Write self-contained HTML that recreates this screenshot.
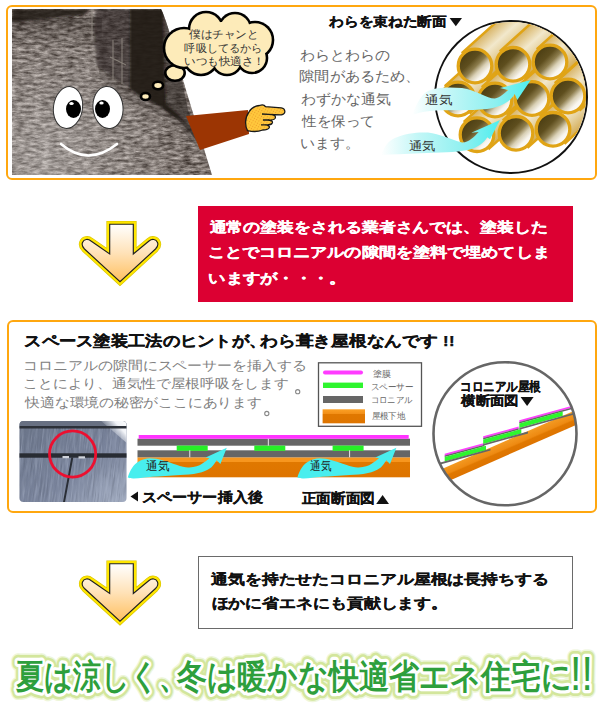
<!DOCTYPE html>
<html lang="ja">
<head>
<meta charset="utf-8">
<style>
*{margin:0;padding:0;box-sizing:border-box}
html,body{width:600px;height:706px;overflow:hidden;background:#fff;font-family:"Liberation Sans",sans-serif}
.abs{position:absolute}
.box{position:absolute;border:2px solid #FFA70F;border-radius:6px}
.t{position:absolute;white-space:nowrap}
</style>
</head>
<body>
<!-- Section 1 box -->
<div class="box" style="left:6px;top:5px;width:591px;height:175px"></div>


<!-- Section 1 graphics -->
<svg class="abs" style="left:0;top:0" width="600" height="190" viewBox="0 0 600 190">
<defs>
  <clipPath id="ph1"><path d="M12,9 L161,9 C165,17 170,33 176,55 L186,90 L212,175 L12,175 Z"/></clipPath>
  <filter id="nz1" x="0" y="0" width="100%" height="100%" color-interpolation-filters="sRGB">
    <feTurbulence type="fractalNoise" baseFrequency="0.12 0.35" numOctaves="4" seed="11"/>
    <feColorMatrix type="matrix" values="0.75 0 0 0 0.11  0.75 0 0 0 0.075  0.75 0 0 0 0.055  0 0 0 0 1"/>
  </filter>
  
  <linearGradient id="tubeIn" x1="0.1" y1="0.1" x2="0.9" y2="0.9">
    <stop offset="0" stop-color="#473a10"/>
    <stop offset="0.35" stop-color="#5e4e1e"/>
    <stop offset="0.52" stop-color="#8c7c4c"/>
    <stop offset="0.66" stop-color="#d8cfb4"/>
    <stop offset="0.8" stop-color="#f8f5ee"/>
    <stop offset="1" stop-color="#ffffff"/>
  </linearGradient>
  <linearGradient id="tubeBody" x1="0" y1="1" x2="1" y2="0">
    <stop offset="0" stop-color="#cfa54a"/>
    <stop offset="0.5" stop-color="#e8d6a8"/>
    <stop offset="1" stop-color="#c9a048"/>
  </linearGradient>
  <linearGradient id="cyan1" x1="0" y1="0" x2="1" y2="0">
    <stop offset="0" stop-color="#ffffff"/>
    <stop offset="0.3" stop-color="#c4f7f7"/>
    <stop offset="0.7" stop-color="#8ef0f0"/>
    <stop offset="1" stop-color="#4eeeee"/>
  </linearGradient>
  <filter id="soft" x="-10%" y="-10%" width="120%" height="120%"><feGaussianBlur stdDeviation="0.8"/></filter>
  <linearGradient id="topShade" x1="0" y1="0" x2="0" y2="1">
    <stop offset="0" stop-color="#1e1814" stop-opacity="0.35"/>
    <stop offset="1" stop-color="#1e1814" stop-opacity="0"/>
  </linearGradient>
  <radialGradient id="lit1" gradientUnits="userSpaceOnUse" cx="45" cy="160" r="140">
    <stop offset="0" stop-color="#fff" stop-opacity="0.3"/>
    <stop offset="1" stop-color="#fff" stop-opacity="0"/>
  </radialGradient>
  <linearGradient id="tb475_66" gradientUnits="userSpaceOnUse" x1="487.3" y1="79.7" x2="462.7" y2="52.3"><stop offset="0" stop-color="#d4ac55"/><stop offset="0.35" stop-color="#e6d2a0"/><stop offset="0.6" stop-color="#f2e8cc"/><stop offset="1" stop-color="#d8b466"/></linearGradient>
<linearGradient id="tb513_64" gradientUnits="userSpaceOnUse" x1="525.3" y1="78.0" x2="500.7" y2="50.6"><stop offset="0" stop-color="#d4ac55"/><stop offset="0.35" stop-color="#e6d2a0"/><stop offset="0.6" stop-color="#f2e8cc"/><stop offset="1" stop-color="#d8b466"/></linearGradient>
<linearGradient id="tb550_62" gradientUnits="userSpaceOnUse" x1="562.3" y1="75.7" x2="537.7" y2="48.3"><stop offset="0" stop-color="#d4ac55"/><stop offset="0.35" stop-color="#e6d2a0"/><stop offset="0.6" stop-color="#f2e8cc"/><stop offset="1" stop-color="#d8b466"/></linearGradient>
<linearGradient id="tb458_99" gradientUnits="userSpaceOnUse" x1="470.3" y1="112.7" x2="445.7" y2="85.3"><stop offset="0" stop-color="#d4ac55"/><stop offset="0.35" stop-color="#e6d2a0"/><stop offset="0.6" stop-color="#f2e8cc"/><stop offset="1" stop-color="#d8b466"/></linearGradient>
<linearGradient id="tb495_100" gradientUnits="userSpaceOnUse" x1="507.3" y1="113.7" x2="482.7" y2="86.3"><stop offset="0" stop-color="#d4ac55"/><stop offset="0.35" stop-color="#e6d2a0"/><stop offset="0.6" stop-color="#f2e8cc"/><stop offset="1" stop-color="#d8b466"/></linearGradient>
<linearGradient id="tb532_98" gradientUnits="userSpaceOnUse" x1="544.3" y1="112.2" x2="519.7" y2="84.8"><stop offset="0" stop-color="#d4ac55"/><stop offset="0.35" stop-color="#e6d2a0"/><stop offset="0.6" stop-color="#f2e8cc"/><stop offset="1" stop-color="#d8b466"/></linearGradient>
<linearGradient id="tb568_96" gradientUnits="userSpaceOnUse" x1="580.3" y1="109.7" x2="555.7" y2="82.3"><stop offset="0" stop-color="#d4ac55"/><stop offset="0.35" stop-color="#e6d2a0"/><stop offset="0.6" stop-color="#f2e8cc"/><stop offset="1" stop-color="#d8b466"/></linearGradient>
<linearGradient id="tb477_134" gradientUnits="userSpaceOnUse" x1="489.3" y1="148.4" x2="464.7" y2="121.0"><stop offset="0" stop-color="#d4ac55"/><stop offset="0.35" stop-color="#e6d2a0"/><stop offset="0.6" stop-color="#f2e8cc"/><stop offset="1" stop-color="#d8b466"/></linearGradient>
<linearGradient id="tb516_133" gradientUnits="userSpaceOnUse" x1="528.3" y1="147.0" x2="503.7" y2="119.6"><stop offset="0" stop-color="#d4ac55"/><stop offset="0.35" stop-color="#e6d2a0"/><stop offset="0.6" stop-color="#f2e8cc"/><stop offset="1" stop-color="#d8b466"/></linearGradient>
<linearGradient id="tb553_129" gradientUnits="userSpaceOnUse" x1="565.3" y1="143.0" x2="540.7" y2="115.6"><stop offset="0" stop-color="#d4ac55"/><stop offset="0.35" stop-color="#e6d2a0"/><stop offset="0.6" stop-color="#f2e8cc"/><stop offset="1" stop-color="#d8b466"/></linearGradient>
  <clipPath id="circ1"><circle cx="511" cy="97" r="75"/></clipPath>
</defs>
<g clip-path="url(#ph1)">
  <rect x="0" y="0" width="220" height="180" filter="url(#nz1)"/>
  <rect x="0" y="0" width="220" height="180" fill="url(#lit1)"/>
  <!-- top dark strip -->
  <path d="M12,9 L90,9 L84,15 L50,18.5 L12,22.5 Z" fill="#221b17" opacity="0.85" filter="url(#soft)"/>
  <rect x="12" y="18" width="90" height="30" fill="url(#topShade)"/>
  <!-- mid-dark region -->
  <path d="M95,9 L131,9 L131,89 L112,77 L97,66 L94,40 Z" fill="#2a2420" opacity="0.6" filter="url(#soft)"/>
  <!-- right band (roof edge) -->
  <path d="M160,9 L163,9 L170,28 L176,55 L182,80 L188,110 L196,130 L203,150 L190,132 L176,118 L163,108 L162,60 Z" fill="#2a2420" opacity="0.55"/>
  <!-- dark doorway -->
  <path d="M130,9 L163,9 L164,60 L166,104 L176,112 L186,122 L176,118 L162,108 L150,101 L139,96 L130,89 Z" fill="#231b17" opacity="0.95" filter="url(#soft)"/>
  <!-- shade near mound edge -->
  <path d="M98,66 L112,77 L127,87 L139,96 L152,102 L165,108 L178,116 L190,126 L200,140 L196,146 L180,128 L160,116 L140,106 L120,95 L100,78 Z" fill="#2a2420" opacity="0.28"/>
  <!-- window frame -->
  <path d="M113,40 L113,80 M122,38 L122,84 M110,57 L126,65 M92,9 L92,38" stroke="#8f8880" stroke-width="1.1" fill="none" opacity="0.85"/>
</g>
<!-- eyes -->
<g stroke="#333" stroke-width="1">
  <ellipse cx="68" cy="107.5" rx="14.5" ry="21" fill="#fff" transform="rotate(8 68 107.5)"/>
  <ellipse cx="108" cy="107.5" rx="15" ry="21" fill="#fff" transform="rotate(-6 108 107.5)"/>
</g>
<ellipse cx="73.5" cy="109" rx="7.5" ry="9" fill="#000"/>
<ellipse cx="102.5" cy="109" rx="7.5" ry="9" fill="#000"/>
<ellipse cx="71.5" cy="103.5" rx="2.2" ry="1.6" fill="#fff"/>
<ellipse cx="101.5" cy="103" rx="2.2" ry="1.6" fill="#fff"/>
<path d="M61,144 Q88,167 117,144" stroke="#fff" stroke-width="2.6" fill="none" stroke-linecap="round"/>
<!-- thought bubble -->
<g fill="#FDEBB9" stroke="#000" stroke-width="2.6">
  <ellipse cx="145.5" cy="96.5" rx="4.5" ry="3.5"/>
  <ellipse cx="158" cy="85.5" rx="5" ry="3.7"/>
  <ellipse cx="175" cy="73" rx="9.7" ry="7.7"/>
</g>
<g fill="#000">
  <circle cx="184" cy="48" r="21.3"/>
  <circle cx="206" cy="29" r="18.3"/>
  <circle cx="235" cy="29" r="17.3"/>
  <circle cx="255" cy="40" r="19.3"/>
  <circle cx="252" cy="58" r="16.3"/>
  <circle cx="227" cy="60" r="16.3"/>
  <circle cx="201" cy="58" r="18.3"/>
</g>
<g fill="#FDEBB9">
  <circle cx="184" cy="48" r="18.7"/>
  <circle cx="206" cy="29" r="15.7"/>
  <circle cx="235" cy="29" r="14.7"/>
  <circle cx="255" cy="40" r="16.7"/>
  <circle cx="252" cy="58" r="13.7"/>
  <circle cx="227" cy="60" r="13.7"/>
  <circle cx="201" cy="58" r="15.7"/>
  <ellipse cx="222" cy="44" rx="38" ry="22"/>
</g>
<!-- arm -->
<path d="M186,116 L248,110 L249,134 L200,150 Z" fill="#9C3503"/>
<!-- hand -->
<defs><pattern id="dots" width="2.6" height="2.6" patternUnits="userSpaceOnUse" patternTransform="rotate(30)"><rect width="2.6" height="2.6" fill="#FFC83C"/><circle cx="1.3" cy="1.3" r="0.55" fill="#EE9A2A"/></pattern></defs>
<g stroke="#1a1a1a" stroke-width="1.3" fill="url(#dots)" stroke-linejoin="round">
  <path d="M247.5,130.6 C245,126 244.5,118 248.7,112.5 C251,108 255,106 259.5,105.5 C262,104.5 264.5,105 265.5,106.7 L281.3,107.8 C285.5,108.3 286.5,114 281.3,114.8 L268.5,114.3 C274,114.5 276.5,116 275,118.5 C274,120 272,120.2 268.5,120 C272.5,120.5 273,122 272,123.5 C271,124.8 269,124.9 266.2,124.8 C269.5,125.5 269.8,127 269,128 C268,129.5 265,130 262.7,130 C259,131.5 253.3,132 247.5,130.6 Z"/>
  <path d="M262,114 L268.5,114.3 M263,120 L268.5,120 M261,124.8 L266.2,124.8" fill="none"/>
</g>
<!-- straw circle -->
<circle cx="511" cy="97" r="76" fill="#fff" stroke="#111" stroke-width="2"/>
<g clip-path="url(#circ1)">
<path d="M489.3,148.4 L578.5,68.1 L553.9,40.7 L464.7,121.0 Z" fill="url(#tb477_134)" stroke="#E0A416" stroke-width="2.5"/>
<path d="M528.3,147.0 L617.5,66.7 L592.9,39.3 L503.7,119.6 Z" fill="url(#tb516_133)" stroke="#E0A416" stroke-width="2.5"/>
<path d="M565.3,143.0 L654.5,62.7 L629.9,35.3 L540.7,115.6 Z" fill="url(#tb553_129)" stroke="#E0A416" stroke-width="2.5"/>
<path d="M470.3,112.7 L559.5,32.4 L534.9,5.0 L445.7,85.3 Z" fill="url(#tb458_99)" stroke="#E0A416" stroke-width="2.5"/>
<path d="M507.3,113.7 L596.5,33.4 L571.9,6.0 L482.7,86.3 Z" fill="url(#tb495_100)" stroke="#E0A416" stroke-width="2.5"/>
<path d="M544.3,112.2 L633.5,31.9 L608.9,4.5 L519.7,84.8 Z" fill="url(#tb532_98)" stroke="#E0A416" stroke-width="2.5"/>
<path d="M580.3,109.7 L669.5,29.4 L644.9,2.0 L555.7,82.3 Z" fill="url(#tb568_96)" stroke="#E0A416" stroke-width="2.5"/>
<path d="M487.3,79.7 L576.5,-0.6 L551.9,-28.0 L462.7,52.3 Z" fill="url(#tb475_66)" stroke="#E0A416" stroke-width="2.5"/>
<path d="M525.3,78.0 L614.5,-2.3 L589.9,-29.7 L500.7,50.6 Z" fill="url(#tb513_64)" stroke="#E0A416" stroke-width="2.5"/>
<path d="M562.3,75.7 L651.5,-4.6 L626.9,-32.0 L537.7,48.3 Z" fill="url(#tb550_62)" stroke="#E0A416" stroke-width="2.5"/>
<g stroke="#E0A416" stroke-width="3.3" fill="url(#tubeIn)">
<circle cx="475" cy="66" r="16.8"/>
<circle cx="513" cy="64.3" r="16.8"/>
<circle cx="550" cy="62" r="16.8"/>
<circle cx="458" cy="99" r="16.8"/>
<circle cx="495" cy="100" r="16.8"/>
<circle cx="532" cy="98.5" r="16.8"/>
<circle cx="568" cy="96" r="16.8"/>
<circle cx="477" cy="134.7" r="16.8"/>
<circle cx="516" cy="133.3" r="16.8"/>
<circle cx="553" cy="129.3" r="16.8"/>
</g>
</g>
<!-- cyan arrows -->
<path d="M412,115 C416,106 420,95 428,91 C436,87 450,87 462,88 C476,90 488,99 495,98.5 C500,97.5 505,93 508,90 L500,88 L530.7,80 L517.3,100 L514.7,94 C510,102 500,107 487,109 C470,111 445,109.5 430,111 C422,112 416,113.5 412,115 Z" fill="url(#cyan1)"/>
<path d="M381,155 C384,147 388,141 395,138 C405,133 418,132 428,132.5 C440,134 450,139 462,142.5 C468,143 474,137 478.7,132 L471.3,132.7 L500,120 L490,139.3 L487.3,137.3 C484,143 478,147.5 468,150 C455,152.5 440,152.5 420,153.3 C405,154 392,154.5 381,155 Z" fill="url(#cyan1)"/>
</svg>

<!-- Section 1 title -->


<!-- down arrows -->
<svg class="abs" style="left:0;top:0" width="200" height="706" viewBox="0 0 200 706">
<defs>
  <linearGradient id="arrG" x1="0" y1="0" x2="0" y2="1">
    <stop offset="0" stop-color="#ffffff"/>
    <stop offset="0.5" stop-color="#FFE2B8"/>
    <stop offset="1" stop-color="#FFC060"/>
  </linearGradient>
  <path id="arr" d="M109.7,224.2 L133.3,224.2 L133.3,254 L149,241 C152,238.5 156,239 157.5,242.5 C158.5,245 157.5,247 155.5,249 L120,281.7 L84.5,249 C82.5,247 81.5,245 82.5,242.5 C84,239 88,238.5 91,241 L109.7,254 Z"/>
</defs>
<g>
  <use href="#arr" fill="none" stroke="#D8C400" stroke-width="6.6" stroke-linejoin="miter"/>
  <use href="#arr" fill="none" stroke="#FFE600" stroke-width="5.4" stroke-linejoin="miter"/>
  <use href="#arr" fill="url(#arrG)" stroke="#222" stroke-width="1.15"/>
</g>
<g transform="translate(0,339.5)">
  <use href="#arr" fill="none" stroke="#D8C400" stroke-width="6.6" stroke-linejoin="miter"/>
  <use href="#arr" fill="none" stroke="#FFE600" stroke-width="5.4" stroke-linejoin="miter"/>
  <use href="#arr" fill="url(#arrG)" stroke="#222" stroke-width="1.15"/>
</g>
</svg>

<!-- red box -->
<div class="abs" style="left:198px;top:206px;width:375px;height:96px;background:#DC0032"></div>

<!-- Section 2 box -->
<div class="box" style="left:7px;top:320px;width:590px;height:193px"></div>


<!-- Section 2 graphics -->
<svg class="abs" style="left:0;top:320px" width="600" height="200" viewBox="0 320 600 200">
<defs>
  <clipPath id="slate"><rect x="19.5" y="421" width="107" height="81" rx="4"/></clipPath>
  <filter id="slateNz" x="0" y="0" width="100%" height="100%" color-interpolation-filters="sRGB">
    <feTurbulence type="fractalNoise" baseFrequency="0.6 0.04" numOctaves="2" seed="4"/>
    <feColorMatrix type="matrix" values="0 0 0 0 0.75  0 0 0 0 0.79  0 0 0 0 0.87  0.9 0 0 0 -0.38"/>
  </filter>
  <filter id="slateNz2" x="0" y="0" width="100%" height="100%" color-interpolation-filters="sRGB">
    <feTurbulence type="fractalNoise" baseFrequency="0.7 0.04" numOctaves="2" seed="9"/>
    <feColorMatrix type="matrix" values="0 0 0 0 0.3  0 0 0 0 0.33  0 0 0 0 0.4  0.9 0 0 0 -0.42"/>
  </filter>
  <linearGradient id="slateG" x1="0" y1="0" x2="1" y2="1">
    <stop offset="0" stop-color="#6a7488"/>
    <stop offset="0.55" stop-color="#78829a"/>
    <stop offset="1" stop-color="#a2acc0"/>
  </linearGradient>
  <linearGradient id="skyG" gradientUnits="userSpaceOnUse" x1="128" y1="420" x2="110" y2="436">
    <stop offset="0" stop-color="#ffffff"/>
    <stop offset="0.45" stop-color="#f2f4f8"/>
    <stop offset="1" stop-color="#c4cad6" stop-opacity="0"/>
  </linearGradient>
  <linearGradient id="orG" x1="0" y1="0" x2="0" y2="1">
    <stop offset="0" stop-color="#F7961E"/>
    <stop offset="0.22" stop-color="#F7961E"/>
    <stop offset="0.25" stop-color="#E07800"/>
    <stop offset="1" stop-color="#DE7400"/>
  </linearGradient>
  <linearGradient id="legOr" x1="0" y1="0" x2="0" y2="1">
    <stop offset="0" stop-color="#FBA025"/>
    <stop offset="0.3" stop-color="#F39018"/>
    <stop offset="0.35" stop-color="#E07800"/>
    <stop offset="1" stop-color="#DE7400"/>
  </linearGradient>
  <linearGradient id="roofOr" gradientUnits="userSpaceOnUse" x1="500" y1="443.4" x2="506" y2="457.3">
    <stop offset="0" stop-color="#F39A22"/>
    <stop offset="0.45" stop-color="#EE8A12"/>
    <stop offset="0.55" stop-color="#E07800"/>
    <stop offset="1" stop-color="#DD7200"/>
  </linearGradient>
  <clipPath id="circ2"><circle cx="505" cy="433.75" r="71"/></clipPath>
  <path id="cyan2" d="M127.75,477.6 C130,470 134,464 138,462 C142,459.5 146,458.3 150,458.3 C158,458.3 168,462 176.4,464.8 C182,466.8 186,467.8 189.2,467.5 C195,467 199,466 202,463.8 C205,462 207.5,460 209.4,458.3 L205.7,457.4 L226.8,447.7 L220.4,463.9 L216.7,460.2 C215,463 213,465.5 211.2,467.5 C207,470.5 203,472 198.4,473 C192,474.5 186,474.9 180,474.9 C170,475.5 160,476.2 152.5,476.7 C145,477.3 140,478 134,478.5 C131,478.6 129,478.2 127.75,477.6 Z"/>
</defs>
<!-- slate photo -->
<g clip-path="url(#slate)">
  <rect x="19" y="420" width="109" height="83" fill="url(#slateG)"/>
  <g transform="skewX(-6)"><rect x="60" y="420" width="120" height="83" filter="url(#slateNz)"/>
  <rect x="60" y="420" width="120" height="83" filter="url(#slateNz2)"/></g>
  <rect x="19" y="420" width="109" height="6" fill="#687082"/>
  <path d="M100,420 L128,420 L128,444 Z" fill="url(#skyG)"/>
  <rect x="19" y="426" width="108" height="2.5" fill="#2c3038"/>
  <rect x="19" y="453.3" width="109" height="4.4" fill="#282c33"/>
  <rect x="62.5" y="456" width="6.5" height="2.2" fill="#d0d4dc"/>
  <rect x="78.5" y="456.3" width="6.5" height="2.2" fill="#d0d4dc"/>
  <path d="M71.3,457.5 L73.3,457.5 L65,502 L63,502 Z" fill="#2a2e36"/>
</g>
<circle cx="72.6" cy="454" r="23.1" fill="none" stroke="#EC1030" stroke-width="2.8"/>
<!-- legend -->
<rect x="318.5" y="362.8" width="103" height="63.5" fill="#fff" stroke="#555" stroke-width="1.3"/>
<line x1="325" y1="372.6" x2="361" y2="372.6" stroke="#FF3CFF" stroke-width="4" stroke-linecap="round"/>
<rect x="323" y="382.6" width="40" height="5.4" fill="#2EF52E"/>
<rect x="323" y="396" width="40" height="7" fill="#666"/>
<rect x="322.6" y="409.3" width="42.4" height="14" fill="url(#legOr)"/>
<!-- cross-section -->
<rect x="137.5" y="457.3" width="272.5" height="20" fill="url(#orG)"/>
<rect x="137.5" y="450.3" width="272.5" height="7" fill="#666"/>
<rect x="137.5" y="438.7" width="272.5" height="7" fill="#666"/>
<rect x="138.7" y="435" width="270" height="3.8" fill="#FF33FF"/>
<rect x="176.7" y="445.6" width="31" height="5.2" fill="#26F026"/>
<rect x="254.3" y="445.6" width="31" height="5.2" fill="#26F026"/>
<rect x="332.6" y="445.6" width="31" height="5.2" fill="#26F026"/>
<rect x="189.2" y="450.3" width="1.1" height="7" fill="#ddd"/>
<rect x="349" y="450.3" width="1.1" height="7" fill="#ddd"/>
<rect x="267.8" y="438.7" width="1.1" height="7" fill="#ddd"/>
<use href="#cyan2" fill="#48EEEE"/>
<use href="#cyan2" fill="#48EEEE" transform="translate(169.6,0)"/>
<path d="M138,491.5 L138,501.5 L130.5,496.5 Z" fill="#111"/>
<!-- roof circle -->
<circle cx="505" cy="433.75" r="71.5" fill="#fff"/>
<g clip-path="url(#circ2)">
  <path d="M420,478.55 L592,402.87 L592,417.87 L420,493.55 Z" fill="url(#roofOr)"/>
  <path d="M444.70,453.80 L484.30,442.91 L484.30,444.81 L444.70,455.70 Z" fill="#FF40FF"/>
  <path d="M444.70,455.60 L484.30,444.71 L484.30,446.21 L444.70,457.10 Z" fill="#666"/>
  <path d="M444.70,457.00 L486.00,445.64 L486.00,450.14 L444.70,461.50 Z" fill="#2EF52E"/>
  <path d="M420.00,468.19 L490.50,448.81 L490.50,450.61 L420.00,469.99 Z" fill="#666"/>
  <path d="M483.20,436.30 L518.70,426.54 L518.70,428.44 L483.20,438.20 Z" fill="#FF40FF"/>
  <path d="M483.20,438.10 L518.70,428.34 L518.70,429.84 L483.20,439.60 Z" fill="#666"/>
  <path d="M483.20,439.50 L521.30,429.02 L521.30,433.52 L483.20,444.00 Z" fill="#2EF52E"/>
  <path d="M483.20,443.90 L528.00,431.58 L528.00,433.38 L483.20,445.70 Z" fill="#666"/>
  <path d="M519.30,420.30 L590.00,400.86 L590.00,402.76 L519.30,422.20 Z" fill="#FF40FF"/>
  <path d="M519.30,422.10 L590.00,402.66 L590.00,404.16 L519.30,423.60 Z" fill="#666"/>
  <path d="M519.30,423.50 L562.70,411.56 L562.70,416.06 L519.30,428.00 Z" fill="#2EF52E"/>
  <path d="M519.30,427.90 L590.00,408.46 L590.00,410.26 L519.30,429.70 Z" fill="#666"/>
</g>
<circle cx="505" cy="433.75" r="71.5" fill="none" stroke="#666" stroke-width="2.6"/>
</svg>

<!-- box 3 -->
<div class="abs" style="left:198px;top:556px;width:375px;height:73px;border:1px solid #6a6a6a"></div>

<!-- bottom heading -->
<svg class="abs" style="left:0;top:640px" width="600" height="66" viewBox="0 640 600 66" font-family="Liberation Sans, sans-serif">
<g fill="#EEF6DA" stroke="#EEF6DA" stroke-width="15" stroke-linejoin="round">
<text x="16.32" y="687.53" font-size="33.50" font-weight="bold" textLength="170.88" lengthAdjust="spacingAndGlyphs" >夏は涼しく、</text>
<text x="176.52" y="687.53" font-size="33.50" font-weight="bold" textLength="395.15" lengthAdjust="spacingAndGlyphs" >冬は暖かな快適省エネ住宅に</text>
<text x="570.05" y="689.56" font-size="47.35" font-weight="normal" textLength="22.71" lengthAdjust="spacingAndGlyphs" >!!</text>
</g>
<g fill="#D3E69C" stroke="#D3E69C" stroke-width="12" stroke-linejoin="round">
<text x="16.32" y="687.53" font-size="33.50" font-weight="bold" textLength="170.88" lengthAdjust="spacingAndGlyphs" >夏は涼しく、</text>
<text x="176.52" y="687.53" font-size="33.50" font-weight="bold" textLength="395.15" lengthAdjust="spacingAndGlyphs" >冬は暖かな快適省エネ住宅に</text>
<text x="570.05" y="689.56" font-size="47.35" font-weight="normal" textLength="22.71" lengthAdjust="spacingAndGlyphs" >!!</text>
</g>
<g fill="#fff" stroke="#fff" stroke-width="6.5" stroke-linejoin="round">
<text x="16.32" y="687.53" font-size="33.50" font-weight="bold" textLength="170.88" lengthAdjust="spacingAndGlyphs" >夏は涼しく、</text>
<text x="176.52" y="687.53" font-size="33.50" font-weight="bold" textLength="395.15" lengthAdjust="spacingAndGlyphs" >冬は暖かな快適省エネ住宅に</text>
<text x="570.05" y="689.56" font-size="47.35" font-weight="normal" textLength="22.71" lengthAdjust="spacingAndGlyphs" >!!</text>
</g>
<g fill="#2E9F3C">
<text x="16.32" y="687.53" font-size="33.50" font-weight="bold" textLength="170.88" lengthAdjust="spacingAndGlyphs" >夏は涼しく、</text>
<text x="176.52" y="687.53" font-size="33.50" font-weight="bold" textLength="395.15" lengthAdjust="spacingAndGlyphs" >冬は暖かな快適省エネ住宅に</text>
<text x="570.05" y="689.56" font-size="47.35" font-weight="normal" textLength="22.71" lengthAdjust="spacingAndGlyphs" >!!</text>
</g>
</svg>
<!-- TEXT OVERLAY -->
<svg class="abs" style="left:0;top:0" width="600" height="706" viewBox="0 0 600 706" font-family="Liberation Sans, sans-serif">
<text x="329.33" y="26.40" font-size="13.30" font-weight="bold" stroke="#111" stroke-width="0.25" fill="#111" textLength="117.34" lengthAdjust="spacingAndGlyphs">わらを束ねた断面</text>
<text x="300.29" y="60.30" font-size="14.20" fill="#666" textLength="89.47" lengthAdjust="spacingAndGlyphs">わらとわらの</text>
<text x="299.29" y="81.30" font-size="14.20" fill="#666" textLength="121.35" lengthAdjust="spacingAndGlyphs">隙間があるため、</text>
<text x="301.09" y="104.05" font-size="14.20" fill="#666" textLength="89.64" lengthAdjust="spacingAndGlyphs">わずかな通気</text>
<text x="302.09" y="125.55" font-size="14.20" fill="#666" textLength="72.62" lengthAdjust="spacingAndGlyphs">性を保って</text>
<text x="300.09" y="148.30" font-size="14.20" fill="#666" textLength="59.57" lengthAdjust="spacingAndGlyphs">います。</text>
<text x="189.05" y="38.18" font-size="11.00" fill="#333" textLength="69.57" lengthAdjust="spacingAndGlyphs">僕はチャンと</text>
<text x="184.45" y="51.93" font-size="11.00" fill="#333" textLength="78.10" lengthAdjust="spacingAndGlyphs">呼吸してるから</text>
<text x="184.45" y="65.18" font-size="11.00" fill="#333" textLength="80.39" lengthAdjust="spacingAndGlyphs">いつも快適さ！</text>
<text x="425.40" y="104.31" font-size="12.00" fill="#333" textLength="27.19" lengthAdjust="spacingAndGlyphs">通気</text>
<text x="409.00" y="149.56" font-size="12.00" fill="#333" textLength="26.67" lengthAdjust="spacingAndGlyphs">通気</text>
<text x="209.52" y="232.42" font-size="13.60" font-weight="bold" stroke="#fff" stroke-width="0.25" fill="#fff" textLength="338.16" lengthAdjust="spacingAndGlyphs">通常の塗装をされる業者さんでは、塗装した</text>
<text x="207.52" y="257.42" font-size="13.60" font-weight="bold" stroke="#fff" stroke-width="0.25" fill="#fff" textLength="342.21" lengthAdjust="spacingAndGlyphs">ことでコロニアルの隙間を塗料で埋めてしま</text>
<text x="208.32" y="282.62" font-size="13.60" font-weight="bold" stroke="#fff" stroke-width="0.25" fill="#fff" textLength="138.35" lengthAdjust="spacingAndGlyphs">いますが・・・。</text>
<text x="24.23" y="345.90" font-size="15.40" font-weight="bold" stroke="#111" stroke-width="0.25" fill="#111" textLength="242.06" lengthAdjust="spacingAndGlyphs">スペース塗装工法のヒントが、</text>
<text x="260.23" y="345.90" font-size="15.40" font-weight="bold" stroke="#111" stroke-width="0.25" fill="#111" textLength="194.54" lengthAdjust="spacingAndGlyphs">わら葺き屋根なんです !!</text>
<text x="23.37" y="370.49" font-size="12.60" fill="#808080" textLength="283.30" lengthAdjust="spacingAndGlyphs">コロニアルの隙間にスペーサーを挿入する</text>
<text x="23.37" y="388.24" font-size="12.60" fill="#808080" textLength="265.29" lengthAdjust="spacingAndGlyphs">ことにより、通気性で屋根呼吸をします</text>
<text x="25.37" y="407.24" font-size="12.60" fill="#808080" textLength="236.27" lengthAdjust="spacingAndGlyphs">快適な環境の秘密がここにあります</text>
<text x="372.57" y="376.72" font-size="8.60" fill="#666" textLength="18.00" lengthAdjust="spacingAndGlyphs">塗膜</text>
<text x="370.57" y="390.22" font-size="8.60" fill="#666" textLength="42.91" lengthAdjust="spacingAndGlyphs">スペーサー</text>
<text x="370.57" y="402.72" font-size="8.60" fill="#666" textLength="41.91" lengthAdjust="spacingAndGlyphs">コロニアル</text>
<text x="371.57" y="419.22" font-size="8.60" fill="#666" textLength="33.86" lengthAdjust="spacingAndGlyphs">屋根下地</text>
<text x="460.13" y="390.64" font-size="12.97" font-weight="bold" stroke="#111" stroke-width="0.25" fill="#111" textLength="80.74" lengthAdjust="spacingAndGlyphs">コロニアル屋根</text>
<text x="461.15" y="404.89" font-size="12.97" font-weight="bold" stroke="#111" stroke-width="0.25" fill="#111" textLength="57.70" lengthAdjust="spacingAndGlyphs">横断面図</text>
<text x="142.19" y="502.06" font-size="14.23" font-weight="bold" stroke="#111" stroke-width="0.25" fill="#111" textLength="120.61" lengthAdjust="spacingAndGlyphs">スペーサー挿入後</text>
<text x="301.66" y="503.32" font-size="14.01" font-weight="bold" stroke="#111" stroke-width="0.25" fill="#111" textLength="73.48" lengthAdjust="spacingAndGlyphs">正面断面図</text>
<text x="211.12" y="584.37" font-size="13.60" font-weight="bold" stroke="#111" stroke-width="0.25" fill="#111" textLength="337.56" lengthAdjust="spacingAndGlyphs">通気を持たせたコロニアル屋根は長持ちする</text>
<text x="211.52" y="608.12" font-size="13.60" font-weight="bold" stroke="#111" stroke-width="0.25" fill="#111" textLength="236.63" lengthAdjust="spacingAndGlyphs">ほかに省エネにも貢献します。</text>
<text x="146.40" y="469.81" font-size="12.00" fill="#222" textLength="23.24" lengthAdjust="spacingAndGlyphs">通気</text>
<text x="310.40" y="469.81" font-size="12.00" fill="#222" textLength="21.24" lengthAdjust="spacingAndGlyphs">通気</text>
<path d="M449.6,17.9 L462,17.9 L455.8,26.3 Z" fill="#111"/>
<path d="M520.6,397 L533.6,397 L527.1,406 Z" fill="#111"/>
<path d="M376.2,504 L389,504 L382.6,495 Z" fill="#111"/>
<circle cx="297.7" cy="391.7" r="2.1" stroke="#888" stroke-width="1.1" fill="none"/>
<circle cx="266.8" cy="413.5" r="2.1" stroke="#888" stroke-width="1.1" fill="none"/>
</svg>
<!-- END TEXT OVERLAY -->
</body>
</html>
